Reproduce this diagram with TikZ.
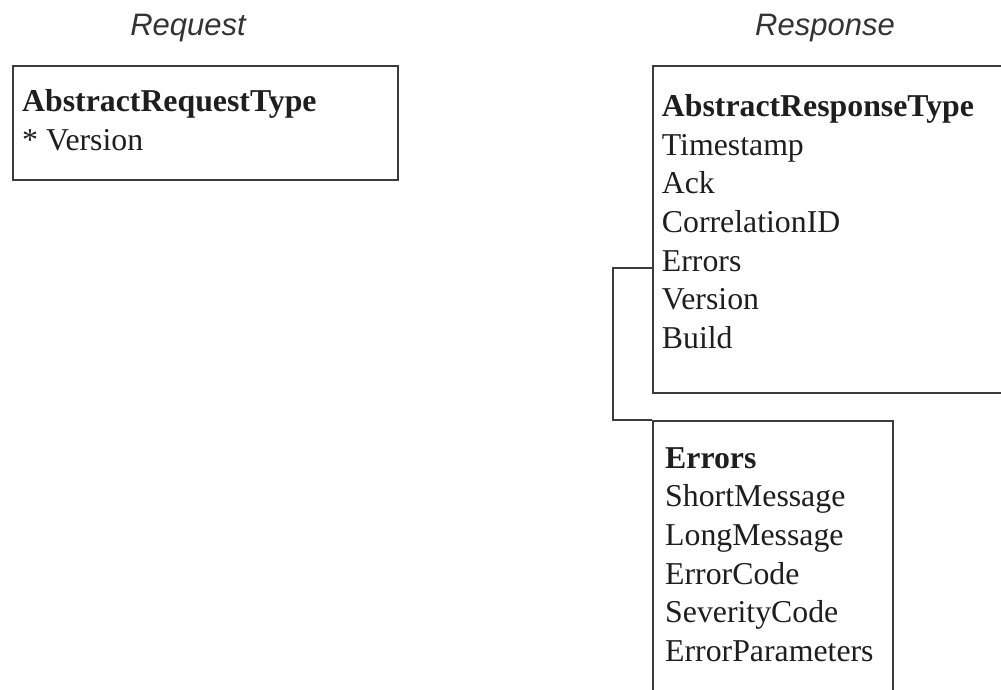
\documentclass[tikz,border=0pt]{standalone}
\usepackage{fontspec}
\setmainfont{Liberation Serif}
\newfontfamily\titlefont{Liberation Sans}
\usetikzlibrary{calc}
\definecolor{linegray}{HTML}{3C3C3C}
\definecolor{textgray}{HTML}{1E1E1E}
\definecolor{titlegray}{HTML}{333333}
\begin{document}
\begin{tikzpicture}[x=1pt,y=-1pt,
  box/.style={draw=linegray, line width=1.8pt, rectangle, inner sep=0pt, anchor=north west},
  boxtext/.style={anchor=base west, inner sep=0pt, align=left, text=textgray,
    font=\fontsize{31.8}{38.6}\selectfont},
  titletext/.style={font=\titlefont\itshape\fontsize{31}{36}\selectfont, text=titlegray, anchor=base, inner sep=0pt},
  link/.style={draw=linegray, line width=1.8pt}]
\useasboundingbox (0,0) rectangle (1001,689);
\clip (0,0) rectangle (1001,689);
% titles
\node[titletext] (reqtitle) at (188,35) {Request};
\node[titletext] (restitle) at (825,35) {Response};
% boxes
\node[box, minimum width=385pt, minimum height=114pt] (req) at (12,65) {};
\node[box, minimum width=420pt, minimum height=327pt] (resp) at (652,65) {};
\node[box, minimum width=240pt, minimum height=300pt] (err) at (652,420) {};
% texts (anchor is the baseline of the last line)
\node[boxtext] (reqtext) at (22,150.3) {\textbf{AbstractRequestType}\\{*} Version};
\node[boxtext] (resptext) at (661.7,348.3) {\textbf{AbstractResponseType}\\Timestamp\\Ack\\CorrelationID\\Errors\\Version\\Build};
\node[boxtext] (errtext) at (665,661.3) {\textbf{Errors}\\ShortMessage\\LongMessage\\ErrorCode\\SeverityCode\\ErrorParameters};
% connector
\draw[link] ($(resp.north west)+(0,203.3)$) -| ($(err.north west)+(-39,0)$) -- (err.north west);
\end{tikzpicture}
\end{document}
